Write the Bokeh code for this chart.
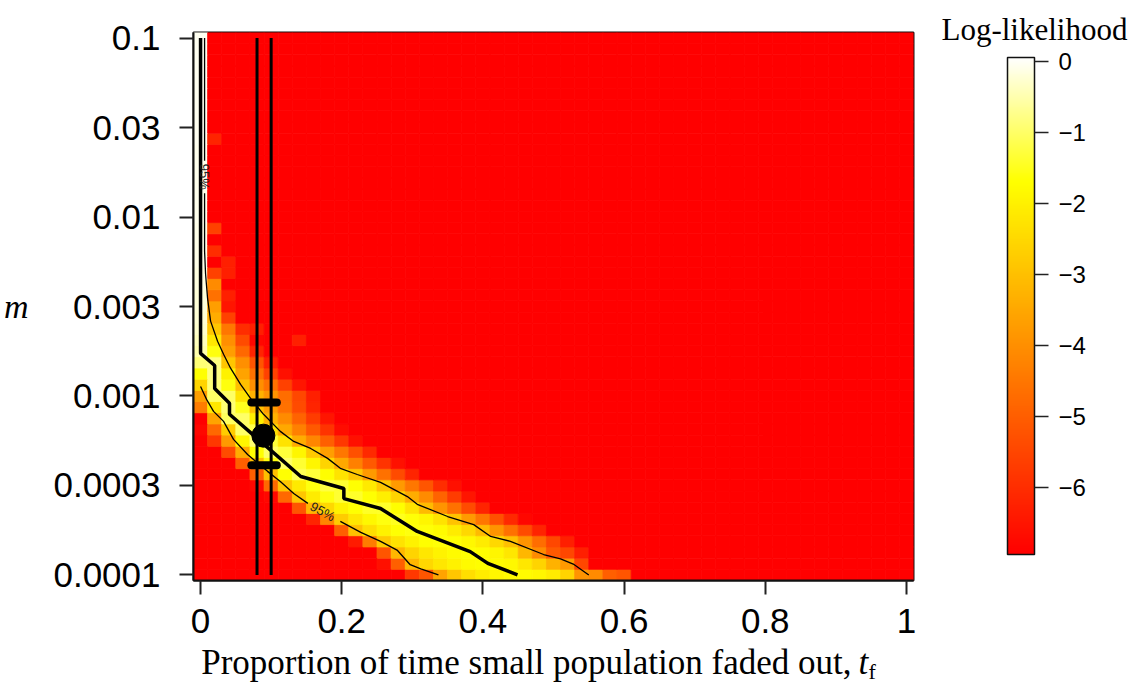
import math
from bokeh.plotting import figure
from bokeh.models import (ColumnDataSource, LinearColorMapper, FixedTicker, Range1d, Label,
                          ColorBar, Title, AllLabels)
from bokeh.embed import file_html
from bokeh.resources import INLINE
from bokeh.transform import transform

# ---------------- grid (cell centres) ----------------
t_step = 0.02
n_t = 51
rows_per_decade = 16
n_m = 49
t_cols = [round(i * t_step, 2) for i in range(n_t)]                 # 0 .. 1
m_rows = [10 ** (-4 + k / rows_per_decade) for k in range(n_m)]      # 1e-4 .. 0.1

# ---------------- log-likelihood values ----------------
offscale_ll = -7.5   # cells below the colour scale (plain red)
band_start = [15, 13, 13, 11, 10, 8, 7, 5, 4, 4, 3, 2, 1, 0, 0, 0, 0,
              0, 0, 0, 0, 0, 0, 0, 0, 0, 0, 0, 0, 0, 0, 0, 0,
              0, 0, 0, 0, 0, 0, 0, 0, 0, 0, 0, 0, 0, 0, 0, 0]
band_values = [
    [-5.8, -5.2, -3.6, -2.9, -2.4, -2.1, -1.9, -1.8, -1.8, -1.9, -2.1, -2.6, -3.9, -4.1, -5.0, -5.2],
    [-6.6, -5.0, -3.2, -2.5, -2.2, -2.0, -1.8, -1.75, -1.8, -1.85, -2.2, -2.6, -3.3, -3.8, -5.5],
    [-5.2, -3.2, -2.6, -2.2, -1.95, -1.8, -1.7, -1.75, -1.9, -2.2, -3.2, -4.1, -5.1, -5.5, -6.3],
    [-6.4, -4.4, -2.8, -2.3, -2.0, -1.75, -1.65, -1.7, -1.85, -2.1, -2.5, -3.0, -3.9, -4.7, -5.5, -6.3],
    [-5.0, -3.0, -2.4, -2.0, -1.7, -1.6, -1.65, -1.8, -2.1, -2.5, -3.1, -3.9, -4.6, -5.4, -6.2],
    [-6.2, -4.2, -2.75, -2.2, -1.85, -1.6, -1.5, -1.65, -1.9, -2.3, -2.95, -3.8, -4.5, -5.3, -6.1, -6.8],
    [-5.2, -3.2, -2.5, -2.0, -1.7, -1.45, -1.4, -1.75, -2.3, -3.1, -3.9, -4.6, -5.4, -6.2],
    [-6.8, -4.8, -2.9, -2.1, -1.6, -1.35, -1.4, -1.7, -2.05, -2.6, -3.4, -4.1, -4.9, -5.7, -6.5],
    [-6.8, -4.8, -2.9, -2.15, -1.6, -1.25, -1.35, -1.7, -2.15, -2.85, -3.8, -4.5, -5.2, -6.0, -6.6],
    [-5.0, -3.0, -1.7, -1.1, -1.3, -1.75, -2.25, -2.9, -3.8, -4.6, -5.4, -6.2],
    [-5.0, -3.0, -1.6, -1.0, -1.35, -1.9, -2.6, -3.5, -4.3, -5.1, -5.9, -6.6],
    [-5.4, -3.4, -1.7, -1.0, -1.3, -1.9, -2.8, -3.7, -4.5, -5.3, -6.1],
    [-5.8, -3.8, -1.9, -0.95, -1.3, -2.3, -3.4, -4.2, -5.0, -5.8, -6.6],
    [-6.8, -4.8, -2.75, -1.0, -1.2, -2.35, -3.5, -4.3, -5.1, -5.9, -6.7],
    [-7.0, -3.6, -1.05, -1.0, -2.05, -3.3, -4.1, -4.9, -5.7, -6.5],
    [-4.4, -2.2, -0.9, -1.5, -3.0, -3.8, -4.6, -5.4, -6.2],
    [-3.7, -1.0, -1.0, -2.3, -3.3, -3.9, -4.7, -5.5, -6.3],
    [-2.6, -0.9, -1.6, -3.0, -4.0, -4.6, -5.6, -6.5],
    [-1.7, -0.8, -2.0, -3.6, -4.6, -5.6, -6.6],
    [-0.9, -0.8, -2.9, -4.0, -5.2, -6.3],
    [-0.5, -1.6, -3.7, -4.8, -6.2],
    [-0.4, -2.2, -4.0, -5.4, -6.8, -7.5, -7.5, -6.3],
    [-0.3, -2.9, -4.5, -6.0, -6.3],
    [-0.25, -3.4, -5.6],
    [-0.2, -3.7, -6.5],
    [-0.2, -4.6, -6.3],
    [-0.15, -4.1],
    [-0.15, -5.6, -6.3],
    [-0.1, -7.5, -6.3],
    [-0.1, -6.0],
    [-0.1],
    [-0.1, -5.6],
    [-0.08], [-0.08], [-0.08], [-0.08], [-0.08], [-0.08], [-0.08],
    [-0.05, -6.2],
    [-0.05], [-0.05], [-0.05], [-0.05], [-0.05], [-0.05], [-0.05], [-0.05], [-0.05],
]

# best-fit ridge and 95% contours (t_f, m)
nan = float("nan")
ridge_t = [0.0, 0.0, 0.02, 0.02, 0.041, 0.041, 0.142, 0.203, 0.203, 0.255, 0.307, 0.382, 0.407, 0.449]
ridge_m = [0.1, 0.00173, 0.00148, 0.00110, 0.00091, 0.00079, 0.000355, 0.000304, 0.000267,
           0.000235, 0.000175, 0.000135, 0.000116, 0.0001]
lower95_t = [0.0, 0.0085, 0.0184, 0.0326, 0.0467, 0.0666, 0.0949, 0.113, 0.132, 0.152, nan,
             0.198, 0.227, 0.255, 0.279, 0.297, 0.312, 0.337]
lower95_m = [0.00113, 0.000957, 0.00082, 0.000721, 0.000572, 0.000471, 0.000379, 0.000333,
             0.000285, 0.000251, nan, 0.000199, 0.000173, 0.000154, 0.000137, 0.000114,
             0.000108, 0.0001]
upper95_t = [0.0057, 0.0057, nan, 0.0057, 0.0057, 0.0071, 0.0099, 0.0142, 0.0241, 0.0326,
             0.0425, 0.0567, 0.0708, 0.0892, 0.113, 0.132, 0.156, 0.180, 0.198, 0.222, 0.255,
             0.293, 0.307, 0.350, 0.387, 0.411, 0.439, 0.486, 0.510, 0.528, 0.550]
upper95_m = [0.1, 0.0206, nan, 0.0136, 0.00645, 0.0048, 0.00352, 0.00262, 0.00202, 0.00171,
             0.00143, 0.00116, 0.00097, 0.00079, 0.000634, 0.000557, 0.000509, 0.000448,
             0.000394, 0.000364, 0.000329, 0.000274, 0.000248, 0.000212, 0.000191, 0.000164,
             0.000154, 0.00013, 0.000123, 0.000115, 0.0001]
label95_t = [0.0057, 0.173]
label95_m = [0.0168, 0.000226]

# estimate with intervals
tf_interval = [0.08, 0.10]
m_interval = [0.00041, 0.00092]
m_bar_t0 = [0.072, 0.072]
m_bar_t1 = [0.108, 0.108]
est_t = [0.089]
est_m = [0.0006]
m_axis_range = [0.0001, 0.1]

x_ticks = [0, 0.2, 0.4, 0.6, 0.8, 1]
x_tick_labels = ["0", "0.2", "0.4", "0.6", "0.8", "1"]
y_ticks = [0.1, 10 ** -1.5, 0.01, 10 ** -2.5, 0.001, 10 ** -3.5, 0.0001]
y_tick_labels = ["0.1", "0.03", "0.01", "0.003", "0.001", "0.0003", "0.0001"]
cb_ticks = [0, -1, -2, -3, -4, -5, -6]
cb_tick_labels = ["0", "\u22121", "\u22122", "\u22123", "\u22124", "\u22125", "\u22126"]
ll_scale = [-6.95, 0.05]

# ---------------- colour map (heat colours: red -> yellow -> white) ----------------
def heat_colors(n):
    j = n // 4
    i = n - j
    out = []
    for q in range(i):
        h = q / (i - 1)
        out.append("#%02x%02x%02x" % (255, round(255 * h), 0))
    s0, s1 = 1 - 1 / (2 * j), 1 / (2 * j)
    for q in range(j):
        s = s0 + (s1 - s0) * q / (j - 1)
        out.append("#%02x%02x%02x" % (255, 255, round(255 * (1 - s))))
    return out

palette = heat_colors(256)
mapper = LinearColorMapper(palette=palette, low=ll_scale[0], high=ll_scale[1],
                           low_color=palette[0], high_color=palette[-1])

# ---------------- build cells ----------------
half_dm = 10 ** (0.5 / rows_per_decade)
cl, cr, cb, ct, cv = [], [], [], [], []
for k, m in enumerate(m_rows):
    vals = [offscale_ll] * n_t
    for i, v in enumerate(band_values[k]):
        vals[band_start[k] + i] = v
    for jj, t in enumerate(t_cols):
        cl.append(t - t_step / 2)
        cr.append(t + t_step / 2)
        cb.append(m / half_dm)
        ct.append(m * half_dm)
        cv.append(vals[jj])
cells = ColumnDataSource(dict(left=cl, right=cr, bottom=cb, top=ct, ll=cv))

# ---------------- figure ----------------
p = figure(width=1136, height=686, title=None,
           x_range=Range1d(-t_step / 2, 1 + t_step / 2),
           y_range=Range1d(m_rows[0] / half_dm, m_rows[-1] * half_dm),
           y_axis_type="log", output_backend="svg", toolbar_location=None,
           min_border_left=193, min_border_right=223, min_border_top=32, min_border_bottom=106)
p.grid.visible = False
p.background_fill_color = "white"
p.border_fill_color = "white"
p.outline_line_color = "#111111"
p.outline_line_width = 2

p.quad(left="left", right="right", bottom="bottom", top="top", source=cells,
       fill_color=transform("ll", mapper), line_color=transform("ll", mapper), line_width=0.8)

p.line(upper95_t, upper95_m, line_color="black", line_width=1.3)
p.line(lower95_t, lower95_m, line_color="black", line_width=1.3)
p.line(ridge_t, ridge_m, line_color="black", line_width=3.5)

p.segment(x0=tf_interval, y0=[m_axis_range[0]] * 2, x1=tf_interval, y1=[m_axis_range[1]] * 2,
          line_color="black", line_width=3)
p.segment(x0=m_bar_t0, y0=m_interval, x1=m_bar_t1, y1=m_interval,
          line_color="black", line_width=8, line_cap="round")
p.scatter(est_t, est_m, size=23, color="black")

p.add_layout(Label(x=label95_t[0], y=label95_m[0], text="95%", angle=-math.pi / 2,
                   text_align="center", text_baseline="middle",
                   text_font="Liberation Sans", text_font_size="13px", text_color="#222222"))
p.add_layout(Label(x=label95_t[1], y=label95_m[1], text="95%", angle=-0.5,
                   text_align="center", text_baseline="middle",
                   text_font="Liberation Sans", text_font_size="13px", text_color="#222222"))

xax = p.xaxis[0]
yax = p.yaxis[0]
xax.ticker = FixedTicker(ticks=x_ticks)
xax.major_label_overrides = dict(zip(x_ticks, x_tick_labels))
yax.ticker = FixedTicker(ticks=y_ticks)
yax.major_label_overrides = dict(zip(y_ticks, y_tick_labels))
for ax in (xax, yax):
    ax.major_tick_out = 14
    ax.major_tick_in = 0
    ax.minor_tick_out = 0
    ax.minor_tick_in = 0
    ax.major_tick_line_width = 2
    ax.major_tick_line_color = "#222222"
    ax.axis_line_width = 2
    ax.axis_line_color = "#111111"
    ax.major_label_text_font = "Liberation Sans"
    ax.major_label_text_font_size = "35px"
    ax.major_label_text_color = "black"
xax.major_label_standoff = 14
yax.major_label_standoff = 19

# y axis title "m" (horizontal, italic)
yax.axis_label = "m"
yax.axis_label_text_font = "Liberation Serif"
yax.axis_label_text_font_style = "italic"
yax.axis_label_text_font_size = "34px"
yax.axis_label_text_color = "black"
yax.axis_label_standoff = 22
if "axis_label_orientation" in yax.properties():
    yax.axis_label_orientation = "horizontal"

# spacing below the x tick labels, then the x title "Proportion ... , t_f"
xax.axis_label = " "
xax.axis_label_text_font_size = "1px"
xax.axis_label_standoff = 36
p.add_layout(Title(text="Proportion of time small population faded out,", align="right",
                   offset=62, vertical_align="top", standoff=-65,
                   text_font="Liberation Serif", text_font_size="35px",
                   text_font_style="normal", text_color="black"), "below")
p.add_layout(Title(text="t", align="left", offset=665, vertical_align="top", standoff=-65,
                   text_font="Liberation Serif", text_font_size="35px",
                   text_font_style="italic", text_color="black"), "below")
p.add_layout(Title(text="f", align="left", offset=675, vertical_align="top", standoff=-34,
                   text_font="Liberation Serif", text_font_size="22px",
                   text_font_style="normal", text_color="black"), "below")

# colour bar
color_bar = ColorBar(color_mapper=mapper, orientation="vertical", width=27, height=497,
                     location=(94, 26), padding=0, margin=0,
                     ticker=FixedTicker(ticks=cb_ticks),
                     major_label_overrides=dict(zip(cb_ticks, cb_tick_labels)),
                     major_label_policy=AllLabels(),
                     major_tick_out=14, major_tick_in=0,
                     major_tick_line_color="#222222", major_tick_line_width=1.5,
                     minor_tick_line_color=None, label_standoff=10,
                     major_label_text_font="Liberation Sans", major_label_text_font_size="24px",
                     major_label_text_color="black",
                     bar_line_color="#111111", bar_line_width=1.5,
                     background_fill_color=None, border_line_color=None)
p.add_layout(color_bar, "right")
p.add_layout(Title(text="Log-likelihood", align="left", offset=748, vertical_align="bottom",
                   standoff=-28, text_font="Liberation Serif", text_font_size="31px",
                   text_font_style="normal", text_color="black"), "above")

open("out.html", "w").write(file_html(p, INLINE))
